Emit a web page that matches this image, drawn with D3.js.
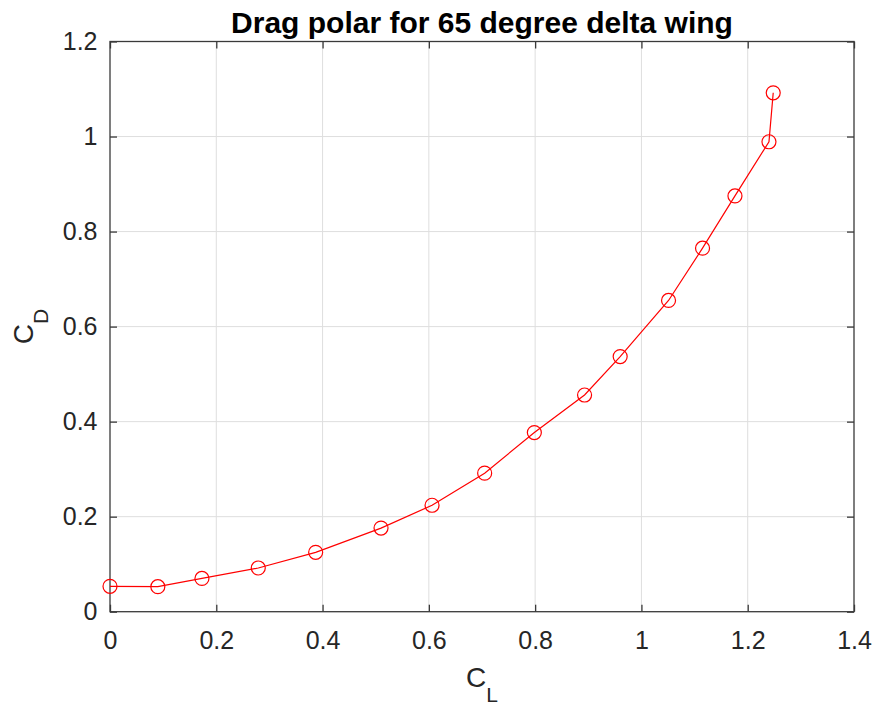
<!DOCTYPE html>
<html><head><meta charset="utf-8">
<script src="https://cdn.jsdelivr.net/npm/d3@7"></script>
<style>body{margin:0;background:#fff}</style></head>
<body><svg id="c" width="877" height="706"></svg>
<script>
const CL = [0, 0.090, 0.173, 0.279, 0.387, 0.510, 0.606, 0.705, 0.7985, 0.893, 0.960, 1.051, 1.115, 1.176, 1.240, 1.248];
const CD = [0.0534, 0.0526, 0.070, 0.092, 0.125, 0.176, 0.224, 0.2916, 0.377, 0.456, 0.537, 0.655, 0.765, 0.875, 0.989, 1.092];
const xTicks = [0, 0.2, 0.4, 0.6, 0.8, 1, 1.2, 1.4];
const yTicks = [0, 0.2, 0.4, 0.6, 0.8, 1, 1.2];
const titleText = "Drag polar for 65 degree delta wing";

const svg = d3.select("#c");
const L = 110, R = 854, T = 41.5, B = 611.7;
const x = d3.scaleLinear().domain([0, 1.4]).range([L, R]);
const y = d3.scaleLinear().domain([0, 1.2]).range([B, T]);
const font = "Liberation Sans, Arial, Helvetica, sans-serif";
const axisCol = "#262626";
const lineCol = "#3a3a3a";

// grid
svg.append("g").selectAll("line").data(xTicks.slice(1, -1)).join("line")
  .attr("x1", d => x(d)).attr("x2", d => x(d)).attr("y1", T).attr("y2", B)
  .attr("stroke", "#dedede").attr("stroke-width", 1);
svg.append("g").selectAll("line").data(yTicks.slice(1, -1)).join("line")
  .attr("y1", d => y(d)).attr("y2", d => y(d)).attr("x1", L).attr("x2", R)
  .attr("stroke", "#dedede").attr("stroke-width", 1);

// axes
const fmt = d => d3.format("")(+d.toFixed(1));
const ax = svg.append("g").attr("transform", `translate(0,${B})`)
  .call(d3.axisBottom(x).tickValues(xTicks).tickSize(-7).tickPadding(20).tickFormat(fmt));
const ay = svg.append("g").attr("transform", `translate(${L},0)`)
  .call(d3.axisLeft(y).tickValues(yTicks).tickSize(-7).tickPadding(12.5).tickFormat(fmt));
const axt = svg.append("g").attr("transform", `translate(0,${T})`)
  .call(d3.axisTop(x).tickValues(xTicks).tickSize(-7).tickFormat(""));
const ayr = svg.append("g").attr("transform", `translate(${R},0)`)
  .call(d3.axisRight(y).tickValues(yTicks).tickSize(-7).tickFormat(""));
[ax, ay, axt, ayr].forEach(g => {
  g.attr("font-size", 25).attr("font-family", font);
  g.selectAll("line").attr("stroke", lineCol).attr("stroke-width", 1.3);
  g.selectAll("text").attr("fill", axisCol).attr("font-family", font).attr("font-size", 25);
  g.select(".domain").remove();
});
svg.append("rect").attr("x", L).attr("y", T).attr("width", R - L).attr("height", B - T)
  .attr("fill", "none").attr("stroke", lineCol).attr("stroke-width", 1.3);

// line + markers
const pts = CL.map((c, i) => [c, CD[i]]);
svg.append("path").datum(pts)
  .attr("d", d3.line().x(d => x(d[0])).y(d => y(d[1])))
  .attr("fill", "none").attr("stroke", "#ff0000").attr("stroke-width", 1.2);
svg.append("g").selectAll("circle").data(pts).join("circle")
  .attr("cx", d => x(d[0])).attr("cy", d => y(d[1])).attr("r", 7)
  .attr("fill", "none").attr("stroke", "#ff0000").attr("stroke-width", 1.2);

// title
svg.append("text").attr("x", (L + R) / 2).attr("y", 33).attr("text-anchor", "middle")
  .attr("font-family", font).attr("font-weight", "bold").attr("font-size", 30).attr("fill", "#000")
  .text(titleText);

// xlabel
const xl = svg.append("text").attr("x", (L + R) / 2).attr("y", 687).attr("text-anchor", "middle")
  .attr("font-family", font).attr("font-size", 28).attr("fill", axisCol);
xl.append("tspan").text("C");
xl.append("tspan").attr("font-size", 21).attr("dy", 15).text("L");

// ylabel
const yl = svg.append("text").attr("transform", `translate(33,${(T + B) / 2}) rotate(-90)`)
  .attr("text-anchor", "middle").attr("font-family", font).attr("font-size", 28).attr("fill", axisCol);
yl.append("tspan").text("C");
yl.append("tspan").attr("font-size", 21).attr("dy", 15).text("D");
</script></body></html>
